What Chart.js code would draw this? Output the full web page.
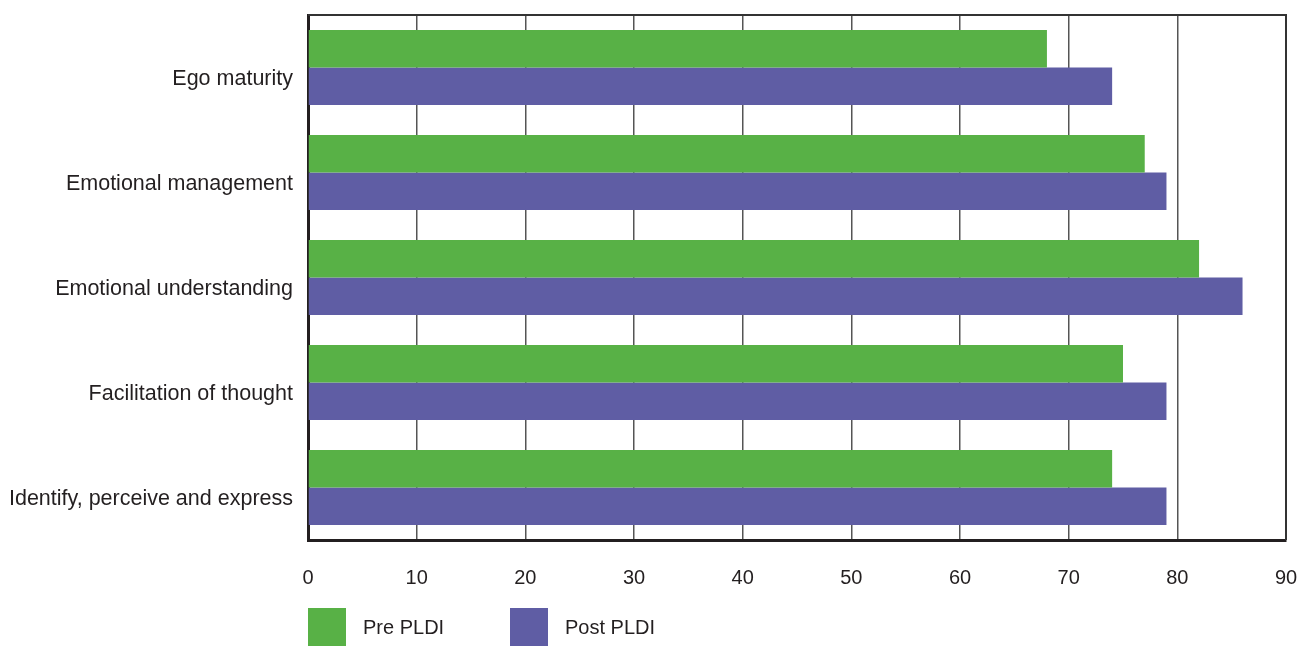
<!DOCTYPE html>
<html>
<head>
<meta charset="utf-8">
<script src="https://cdn.jsdelivr.net/npm/chart.js@4"></script>
<style>
  html, body { margin: 0; padding: 0; background: #fff; }
  #wrap { position: relative; width: 1316px; height: 646px; }
  .leg { position: absolute; top: 608px; height: 38px; display: flex; align-items: center;
         font-family: 'Liberation Sans', Arial, sans-serif; font-size: 20px; color: #231f20; }
  .leg span.box { display: inline-block; width: 38px; height: 38px; margin-right: 17px; }
</style>
</head>
<body>
<div id="wrap">
  <canvas id="chart" width="1316" height="646"></canvas>
  <div class="leg" style="left:308px"><span class="box" style="background:#58b146"></span><span id="l0"></span></div>
  <div class="leg" style="left:510px"><span class="box" style="background:#5f5da4"></span><span id="l1"></span></div>
</div>
<script>
const categories = ['Ego maturity', 'Emotional management', 'Emotional understanding', 'Facilitation of thought', 'Identify, perceive and express'];
const preValues = [68, 77, 82, 75, 74];
const postValues = [74, 79, 86, 79, 79];
const seriesNames = ['Pre PLDI', 'Post PLDI'];
const xTicks = [0, 10, 20, 30, 40, 50, 60, 70, 80, 90];

document.getElementById('l0').textContent = seriesNames[0];
document.getElementById('l1').textContent = seriesNames[1];

const textColor = '#231f20';
const fontFamily = "'Liberation Sans', Arial, sans-serif";

// top and right edges of the plot frame
const frame = {
    id: 'frame',
    afterDraw(chart) {
        const a = chart.chartArea;
        const c = chart.ctx;
        c.save();
        c.strokeStyle = '#333';
        c.lineWidth = 2;
        c.beginPath();
        c.moveTo(a.left, a.top);
        c.lineTo(a.right, a.top);
        c.lineTo(a.right, a.bottom);
        c.stroke();
        c.restore();
    }
};

new Chart(document.getElementById('chart'), {
    type: 'bar',
    data: {
        labels: categories,
        datasets: [
            { label: seriesNames[0], data: preValues, backgroundColor: '#58b146' },
            { label: seriesNames[1], data: postValues, backgroundColor: '#5f5da4' }
        ]
    },
    options: {
        indexAxis: 'y',
        responsive: false,
        animation: false,
        devicePixelRatio: 1,
        categoryPercentage: 0.715,
        barPercentage: 1.0,
        layout: { padding: { top: 15, right: 30, left: 0, bottom: 0 } },
        plugins: { legend: { display: false }, tooltip: { enabled: false } },
        scales: {
            x: {
                min: 0,
                max: 90,
                afterBuildTicks(axis) { axis.ticks = xTicks.map(v => ({ value: v })); },
                afterFit(axis) { axis.height = 106; axis.paddingLeft = 0; axis.paddingRight = 0; },
                ticks: { color: textColor, font: { family: fontFamily, size: 20 }, padding: 26 },
                grid: { color: '#555', lineWidth: 1.5, drawTicks: false },
                border: { display: true, color: '#231f20', width: 3 }
            },
            y: {
                afterFit(axis) { axis.width = 308; axis.paddingTop = 0; axis.paddingBottom = 0; },
                ticks: { color: textColor, font: { family: fontFamily, size: 21.5 }, padding: 15, labelOffset: 12 },
                grid: { display: false, drawTicks: false },
                border: { display: true, color: '#231f20', width: 3 }
            }
        }
    },
    plugins: [frame]
});
</script>
</body>
</html>
